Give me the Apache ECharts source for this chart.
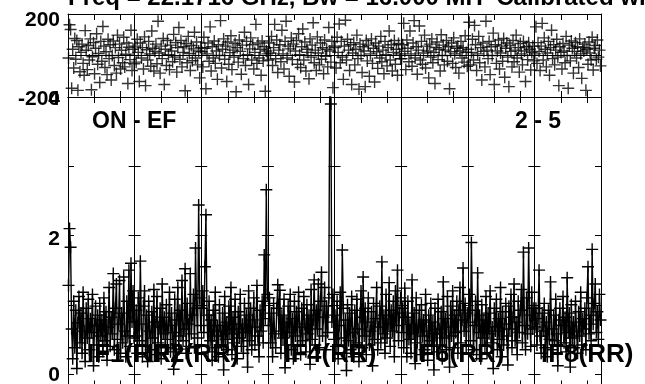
<!DOCTYPE html>
<html><head><meta charset="utf-8">
<script src="https://cdn.jsdelivr.net/npm/echarts@6/dist/echarts.min.js"></script>
<style>html,body{margin:0;padding:0;background:#fff}#c{width:645px;height:384px}</style>
</head><body><div id="c"></div>
<script>
// ---------- text ----------
const titleText = 'Freq = 22.1716 GHz, Bw = 16.000 MH  Calibrated wi';
const sourceLabel = 'ON - EF';
const baselineLabel = '2 - 5';
const ifLabels = ['IF1(RR)', 'IF2(RR)', 'IF4(RR)', 'IF6(RR)', 'IF8(RR)'];
// ---------- tick values ----------
const ampTicks = [0, 1, 2, 3, 4];
const ampLabels = [0, 2, 4];
const phaseLabels = [-200, 200];
const chanTicks = [25, 50];
// ---------- amplitude per IF (64 channels each) ----------
const amp1 = [1.28,2.10,1.83,0.65,0.22,1.05,0.38,0.92,0.08,0.74,1.12,0.45,0.88,0.30,1.18,0.62,0.18,0.95,0.52,1.08,0.35,0.80,0.60,1.15,0.12,0.70,0.98,0.42,0.85,0.25,1.02,0.55,0.78,0.33,1.10,0.48,0.90,0.20,0.68,1.25,0.40,0.82,0.58,1.45,0.35,0.95,1.30,0.50,0.72,1.35,0.30,0.88,0.45,1.40,0.62,0.25,1.05,0.55,1.50,0.40,1.60,0.75,1.20,0.52];
const amp2 = [0.55,0.92,0.30,1.10,0.48,1.63,0.72,0.25,0.98,1.20,0.40,0.85,0.18,1.05,0.62,0.35,0.90,0.52,1.22,0.28,0.75,1.12,0.45,0.68,0.95,0.22,1.30,0.58,0.82,0.38,1.00,0.50,0.70,1.18,0.32,0.88,0.60,0.07,1.08,0.42,0.78,1.25,0.36,0.92,0.55,1.35,0.48,0.65,1.52,0.30,1.02,0.72,0.40,1.45,0.58,0.85,1.15,0.38,1.82,0.95,0.52,2.44,1.10,0.70];
const amp3 = [0.95,1.20,0.60,1.55,2.30,0.85,0.32,1.05,0.48,0.78,0.20,0.92,0.55,1.18,0.38,0.70,0.25,1.00,0.62,0.42,0.88,0.06,1.12,0.50,0.75,0.35,0.98,0.58,1.25,0.28,0.82,0.45,1.08,0.65,0.22,0.90,0.52,1.15,0.40,0.72,0.30,1.02,0.60,0.85,0.10,1.20,0.48,0.95,0.35,0.78,1.10,0.42,0.68,1.28,0.55,0.25,0.92,0.62,1.05,0.45,1.72,0.80,2.66,1.15];
const amp4 = [0.70,1.10,0.45,0.88,0.25,1.02,0.58,0.38,0.95,1.29,0.62,1.21,0.30,0.85,0.52,1.08,0.09,0.75,0.42,0.98,0.60,1.15,0.35,0.80,0.22,1.05,0.55,0.90,0.40,1.18,0.68,0.28,0.95,0.48,1.12,0.72,0.32,1.00,0.58,0.85,0.14,1.22,0.50,0.78,1.36,0.42,0.92,0.65,1.30,0.38,1.05,1.47,0.55,0.82,1.25,0.35,0.98,0.60,1.10,4.40,3.90,0.75,1.15,0.50];
const amp5 = [0.85,0.40,1.05,0.22,0.70,1.18,0.52,1.79,0.95,0.30,0.78,0.05,1.00,0.48,0.88,0.35,1.12,0.60,0.25,0.92,0.45,1.08,0.65,0.18,0.82,1.20,0.38,1.40,0.55,0.95,0.28,0.75,1.10,0.42,0.62,0.90,0.12,1.02,0.50,0.80,1.25,0.35,0.68,0.98,0.45,1.62,0.58,0.85,0.30,1.15,0.52,0.72,1.32,0.40,0.92,0.62,1.05,0.25,1.20,0.70,1.50,0.48,0.88,1.10];
const amp6 = [0.60,0.95,0.38,1.24,0.82,0.25,1.05,0.50,0.72,0.30,1.36,0.58,0.88,0.15,1.10,0.45,0.68,0.92,0.28,1.00,0.55,0.78,0.35,1.15,0.62,0.20,0.85,0.48,1.02,0.40,0.75,0.06,0.95,0.58,0.32,1.08,0.65,0.42,0.90,0.22,1.33,0.52,0.80,0.35,1.12,0.68,0.10,0.98,0.55,1.20,0.38,0.85,0.60,1.05,0.30,0.92,1.25,0.45,0.78,1.53,0.62,1.02,0.40,0.88];
const amp7 = [0.75,1.15,0.48,1.90,0.92,0.35,0.70,1.05,0.28,1.46,0.60,0.85,0.22,1.00,0.52,0.78,0.40,1.12,0.30,0.88,0.58,1.20,0.45,0.68,0.08,0.95,0.62,1.08,0.35,0.80,0.50,1.25,0.25,0.90,0.42,0.72,1.02,0.55,0.13,0.98,0.65,1.15,0.38,0.82,1.30,0.48,0.75,0.28,1.05,0.60,0.92,1.22,0.45,1.76,0.70,0.35,1.10,0.58,1.82,0.85,0.40,1.18,0.65,0.95];
const amp8 = [0.68,0.95,0.42,0.80,1.50,0.55,0.30,0.88,0.62,1.02,0.38,0.75,0.25,0.92,0.50,1.33,0.65,0.35,0.85,0.48,1.08,0.58,0.12,0.78,0.95,0.40,0.70,1.12,0.45,0.82,0.32,1.39,0.60,0.88,0.10,1.00,0.52,0.75,0.38,1.05,0.62,0.30,0.90,0.55,1.18,0.42,0.80,0.65,0.95,0.35,1.10,1.55,0.58,0.85,0.48,1.80,0.72,1.02,1.30,0.60,0.90,0.50,1.15,0.78];
// ---------- phase per IF (degrees) ----------
const ph1 = [-12,148,125,-158,30,-60,82,-18,72,-168,42,-78,15,55,-38,-95,120,25,-68,48,-22,80,-165,-6,62,-88,35,105,-42,10,-130,68,-28,140,45,-58,18,-92,78,-15,52,-118,0,70,-48,38,-85,98,-10,55,-65,25,-35,88,-55,6,60,-135,40,-20,122,-72,30,-40];
const ph2 = [45,-32,78,15,-125,60,-12,38,-65,90,-145,28,-22,68,8,-52,118,35,-75,20,55,-40,165,12,-85,45,-15,82,-140,30,-48,72,4,-68,50,22,-30,102,-8,62,-80,38,135,-18,72,-55,15,42,-170,58,-35,92,10,-72,48,-25,32,112,-12,65,-45,22,-108,38];
const ph3 = [18,-55,88,35,-160,8,60,-28,138,-75,42,-12,70,-38,22,-115,52,0,168,-60,30,80,-18,45,-125,65,-42,14,95,-68,26,-8,58,-175,38,-32,75,20,-90,50,-15,112,-48,68,4,-140,32,85,-22,52,-65,15,150,-38,60,-12,30,-95,70,-26,42,-172,22,8];
const ph4 = [-22,60,12,92,-48,38,150,-16,75,-82,26,52,-30,122,8,-65,68,165,-12,45,-100,32,85,-20,55,-128,22,72,-42,105,4,-58,42,128,-22,65,-75,30,15,-112,80,-8,50,158,-35,26,-72,90,12,-45,60,-18,38,-88,75,-4,30,-55,135,22,-32,68,-155,45];
const ph5 = [38,-60,88,15,152,-35,68,-8,-115,45,170,-22,78,26,-72,52,-140,12,62,-45,30,98,-15,-162,55,0,-82,42,22,-150,72,-26,50,-100,8,80,-38,35,-128,60,18,-62,45,-12,92,-30,26,-88,68,4,-50,38,118,-22,52,-75,15,72,-42,30,-95,58,8,-16];
const ph6 = [-15,52,155,20,-68,75,35,-30,118,8,-52,60,168,-12,42,-90,26,142,-22,68,-42,12,98,-60,45,22,-108,55,-8,80,-35,15,-135,38,65,-20,30,-75,100,0,50,-45,26,72,-28,42,-160,18,60,-38,85,8,-58,35,45,-85,22,68,-12,38,-32,95,15,-52];
const ph7 = [30,160,-45,15,78,-22,145,52,-72,8,92,-35,38,-118,60,20,-55,165,26,-15,68,-92,42,0,108,-140,52,-38,22,75,-65,12,45,-28,82,-105,35,60,-8,-150,50,20,-55,72,-30,26,98,-12,38,-80,58,8,-45,68,22,-125,42,-20,62,30,-70,15,45,-26];
const ph8 = [8,138,-38,62,20,-72,45,155,-22,85,30,-55,12,68,-95,38,122,-15,52,-45,26,78,-8,-145,42,15,-65,58,22,-35,92,0,-158,50,-26,70,35,-85,20,62,-12,42,-58,80,8,-110,38,22,55,-168,30,-42,65,12,-22,88,-70,35,48,-18,75,-8,26,-50];

// ---------- layout / style ----------
const amps = [amp1, amp2, amp3, amp4, amp5, amp6, amp7, amp8];
const phs = [ph1, ph2, ph3, ph4, ph5, ph6, ph7, ph8];
const FONT = '"Liberation Sans", Arial, sans-serif';
const L = 68, R = 601, W = (R - L) / 8;
const PANELS = [
  { top: 14, height: 83, min: -200, max: 200 },
  { top: 97, height: 289.5, min: -0.18, max: 4 }
];
const cross = 'path://M0,6H12M6,0V12';
const ink = '#000';
const LW = 1.4;
// vertical nudges (px) for the outer tick labels
const labelShift = { '200': 6, '-200': 2, '4': 2, '2': 4, '0': 1 };
const rich = {};
Object.keys(labelShift).forEach((key, i) => {
  rich['s' + i] = { padding: [labelShift[key] * 2, 0, 0, 0], color: ink, fontFamily: FONT, fontWeight: 'bold', fontSize: 21 };
});
const labelFmt = v => {
  const i = Object.keys(labelShift).indexOf(String(v));
  return i < 0 ? String(v) : '{s' + i + '|' + v + '}';
};

const grid = [], xAxis = [], yAxis = [], series = [];
for (let p = 0; p < 2; p++) {
  for (let k = 0; k < 8; k++) {
    const g = grid.length;
    const P = PANELS[p];
    grid.push({ left: L + k * W, width: W, top: P.top, height: P.height, containLabel: false, outerBoundsMode: 'none' });
    ['bottom', 'top'].forEach(pos => xAxis.push({
      gridIndex: g, type: 'value', min: -0.5, max: 63.5, position: pos,
      axisLine: { show: true, onZero: false, lineStyle: { color: ink, width: 1 } },
      axisTick: { show: true, inside: true, length: 6, customValues: chanTicks, lineStyle: { color: ink, width: 1 } },
      axisLabel: { show: false }, splitLine: { show: false }
    }));
    ['left', 'right'].forEach(pos => {
      const showLab = (pos === 'left' && k === 0);
      yAxis.push({
        gridIndex: g, type: 'value', min: P.min, max: P.max, position: pos,
        axisLine: { show: true, onZero: false, lineStyle: { color: ink, width: 1 } },
        axisTick: p === 1 ? { show: true, inside: true, length: 6, customValues: ampTicks, lineStyle: { color: ink, width: 1 } } : { show: false },
        axisLabel: {
          show: showLab, customValues: p === 1 ? ampLabels : phaseLabels,
          formatter: labelFmt, rich,
          color: ink, fontFamily: FONT, fontWeight: 'bold', fontSize: 21, margin: 8
        },
        splitLine: { show: false }
      });
    });
    const xi = 2 * g, yi = 2 * g;
    if (p === 1) {
      series.push({
        type: 'line', xAxisIndex: xi, yAxisIndex: yi,
        data: amps[k].map((v, i) => [i, v]),
        symbol: cross, symbolSize: 12, showAllSymbol: true, clip: true,
        lineStyle: { color: ink, width: LW },
        itemStyle: { color: ink, borderColor: ink, borderWidth: LW },
        animation: false, z: 3
      });
    } else {
      series.push({
        type: 'scatter', xAxisIndex: xi, yAxisIndex: yi,
        data: phs[k].map((v, i) => [i, v]),
        symbol: cross, symbolSize: 12, clip: true,
        itemStyle: { color: ink, borderColor: ink, borderWidth: LW },
        markLine: { silent: true, symbol: 'none', animation: false, label: { show: false },
          lineStyle: { color: ink, width: 1, type: 'solid' }, data: [{ yAxis: 0 }] },
        animation: false, z: 3
      });
    }
  }
}

const txt = (text, x, y, size) => ({
  type: 'text', x, y, z: 1,
  style: { text, fill: ink, font: 'bold ' + size + 'px ' + FONT, verticalAlign: 'middle', align: 'left' }
});
const ifX = [87, 147, 284, 412, 541];
const graphic = [
  txt(titleText, 68, -2, 24),
  txt(sourceLabel, 92, 122, 23),
  txt(baselineLabel, 515, 122, 23)
].concat(ifLabels.map((t, i) => txt(t, ifX[i], 355, 26)));

const chart = echarts.init(document.getElementById('c'), null, { renderer: 'canvas' });
chart.setOption({ animation: false, backgroundColor: '#fff', grid, xAxis, yAxis, series, graphic });
</script></body></html>
